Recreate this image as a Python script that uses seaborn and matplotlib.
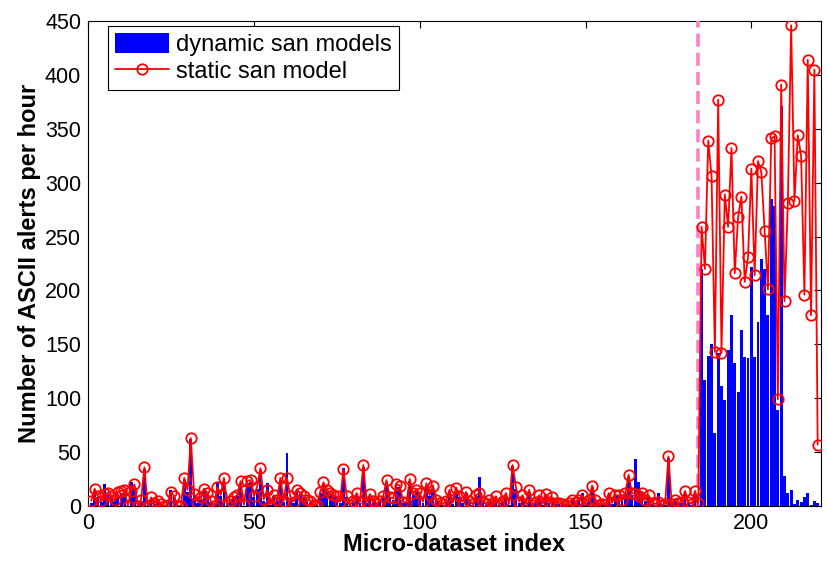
import numpy as np
import pandas as pd
import matplotlib
matplotlib.use("Agg")
import matplotlib.pyplot as plt
from matplotlib.patches import Patch
from matplotlib.lines import Line2D
import seaborn as sns

# ---- data -------------------------------------------------------------
dynamic_low = [
    3, 14, 8, 4, 20, 10, 8, 5, 11, 12,
    14, 0, 22, 18, 0, 5, 34, 0, 6, 2,
    4, 1, 0, 0, 15, 7, 0, 0, 24, 13,
    62, 10, 3, 6, 14, 10, 4, 0, 22, 9,
    24, 1, 4, 7, 9, 21, 0, 21, 22, 8,
    16, 33, 5, 21, 1, 9, 5, 24, 4, 49,
    7, 3, 13, 10, 8, 4, 4, 1, 1, 12,
    20, 13, 10, 9, 8, 3, 35, 8, 0, 4,
    10, 3, 36, 3, 9, 4, 1, 4, 8, 22,
    7, 6, 18, 18, 3, 4, 23, 10, 13, 10,
    3, 19, 9, 17, 5, 2, 1, 4, 14, 2,
    15, 8, 3, 12, 4, 1, 9, 27, 3, 1,
    5, 2, 8, 1, 4, 10, 1, 37, 16, 3,
    9, 1, 13, 1, 3, 9, 1, 10, 3, 7,
    2, 2, 1, 1, 2, 5, 3, 5, 12, 1,
    5, 18, 5, 1, 1, 1, 10, 2, 9, 9,
    5, 11, 27, 10, 44, 22, 10, 5, 9, 2,
    1, 12, 1, 1, 45, 1, 5, 2, 3, 12,
    3, 1, 12, 2,
]
dynamic_high = [
    220, 117, 139, 150, 68, 142, 111, 98, 145, 177,
    133, 106, 163, 138, 137, 222, 138, 171, 229, 220,
    177, 285, 278, 89, 371, 28, 12, 15, 2, 6,
    4, 8, 12, 1, 5, 3,
]
static_low = [
    5, 16, 9, 5, 11, 12, 9, 6, 13, 14,
    15, 0, 14, 20, 0, 6, 36, 0, 8, 3,
    5, 2, 0, 1, 13, 9, 0, 0, 26, 15,
    63, 11, 4, 8, 16, 12, 5, 0, 18, 10,
    26, 1, 5, 8, 10, 23, 1, 23, 24, 9,
    18, 35, 6, 15, 1, 10, 6, 26, 5, 26,
    9, 4, 15, 12, 9, 6, 5, 1, 1, 13,
    22, 15, 12, 10, 9, 4, 34, 9, 1, 5,
    12, 4, 38, 4, 11, 5, 2, 5, 9, 24,
    8, 7, 20, 19, 4, 3, 25, 12, 15, 12,
    4, 21, 10, 19, 6, 3, 2, 5, 15, 3,
    17, 9, 4, 13, 5, 2, 10, 12, 4, 2,
    6, 3, 9, 1, 5, 12, 2, 38, 18, 4,
    10, 2, 15, 1, 4, 10, 2, 11, 4, 8,
    3, 3, 2, 1, 3, 6, 4, 6, 10, 1,
    6, 19, 6, 1, 2, 1, 12, 3, 10, 10,
    6, 12, 29, 12, 11, 9, 12, 6, 10, 3,
    2, 4, 1, 2, 46, 2, 6, 3, 4, 14,
    4, 2, 14, 3,
]
static_high = [
    259, 220, 339, 306, 143, 377, 142, 289, 259, 332,
    216, 268, 287, 208, 231, 313, 214, 320, 310, 255,
    201, 341, 343, 99, 391, 190, 281, 446, 283, 344,
    325, 196, 414, 177, 405, 57,
]
change_point = 184
x_ticks = [0, 50, 100, 150, 200]
y_ticks = [0, 50, 100, 150, 200, 250, 300, 350, 400, 450]
labels = ["dynamic san models", "static san model"]
x_label = "Micro-dataset index"
y_label = "Number of ASCII alerts per hour"

dynamic = dynamic_low + dynamic_high
static = static_low + static_high
index = list(range(1, len(static) + 1))
df = pd.DataFrame({"idx": index, "dynamic": dynamic, "static": static})

# ---- plot -------------------------------------------------------------
sns.set_style("white")
plt.rcParams["font.family"] = ["Liberation Sans", "DejaVu Sans"]
for k in ["text.color", "axes.labelcolor", "xtick.color", "ytick.color", "axes.edgecolor"]:
    plt.rcParams[k] = "black"

fig = plt.figure(figsize=(8.28, 5.61), dpi=100)
ax = fig.add_axes([88 / 828, 1 - 506 / 561, (821 - 88) / 828, (506 - 21) / 561])

sns.barplot(data=df, x="idx", y="dynamic", native_scale=True, color="#0000ff",
            saturation=1, width=0.88, linewidth=0, ax=ax, zorder=2)
ax.axvline(change_point, color="#ff7fc6", ls="--", lw=2.6, dashes=(3.6, 1.7), zorder=3)
sns.lineplot(data=df, x="idx", y="static", color="red", lw=1.3, marker="o",
             markersize=7.5, markerfacecolor="none", markeredgecolor="red",
             markeredgewidth=1.3, ax=ax, zorder=4)

ax.set_xlim(0, 221)
ax.set_ylim(0, 450)
ax.set_xticks(x_ticks)
ax.set_yticks(y_ticks)
ax.tick_params(direction="in", top=True, right=True, length=5, width=0.8,
               labelsize=15.5, colors="black", pad=5)
for s in ax.spines.values():
    s.set_color("black")
    s.set_linewidth(0.8)
ax.set_xlabel(x_label, fontsize=17, fontweight="bold", labelpad=-1)
ax.set_ylabel(y_label, fontsize=17, fontweight="bold", labelpad=3)

handles = [Patch(facecolor="#0000ff", edgecolor="none"),
           Line2D([0], [0], color="red", lw=1.3, marker="o", markersize=7.5,
                  markerfacecolor="none", markeredgecolor="red", markeredgewidth=1.3)]
leg = ax.legend(handles, labels, loc="upper left", bbox_to_anchor=(0.027, 0.99),
                borderaxespad=0, fontsize=17, frameon=True, fancybox=False,
                edgecolor="black", framealpha=1, handlelength=2.3, handleheight=0.95,
                handletextpad=0.3, borderpad=0.3, labelspacing=0.15)
leg.get_frame().set_linewidth(0.8)

fig.savefig("out.png", dpi=100)
